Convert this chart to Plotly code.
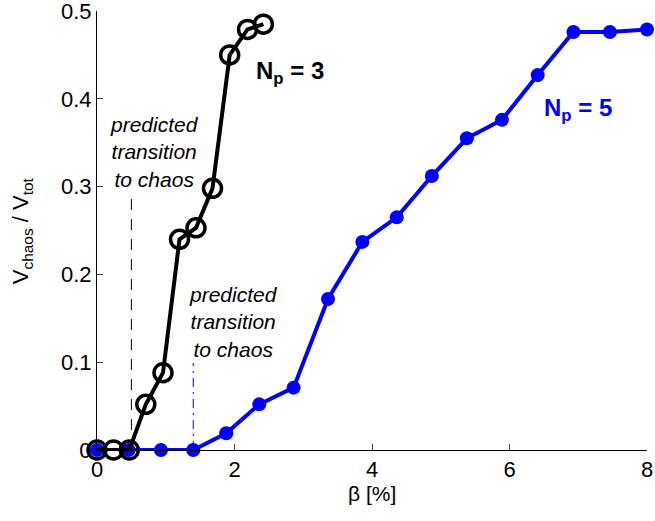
import plotly.graph_objects as go

# N_p = 3 series
beta_np3 = [0.0, 0.24, 0.47, 0.71, 0.96, 1.20, 1.44, 1.68, 1.93, 2.19, 2.42]
v_np3 = [0.0, 0.0, 0.0, 0.052, 0.088, 0.240, 0.253, 0.298, 0.450, 0.479, 0.485]

# N_p = 5 series
beta_np5 = [0.0, 0.46, 0.93, 1.40, 1.88, 2.36, 2.86, 3.36, 3.86, 4.36, 4.87,
            5.38, 5.89, 6.41, 6.93, 7.46, 8.0]
v_np5 = [0.0, 0.0, 0.0, 0.0, 0.019, 0.052, 0.071, 0.172, 0.237, 0.265, 0.312,
         0.355, 0.376, 0.427, 0.476, 0.476, 0.479]

# predicted transitions
trans_x = [0.5, 1.4]
trans_top = [0.295, 0.099]

x_ticks = [0, 2, 4, 6, 8]
y_ticks = [0, 0.1, 0.2, 0.3, 0.4, 0.5]
y_ticklabels = ["0", "0.1", "0.2", "0.3", "0.4", "0.5"]

FONT = "Liberation Sans, Arial, Helvetica, sans-serif"
BLUE = "#0000ff"

fig = go.Figure()

# transition markers
fig.add_trace(go.Scatter(x=[trans_x[0], trans_x[0]], y=[0, trans_top[0]], mode="lines",
                         line=dict(color="black", width=1, dash="11px,9px"),
                         showlegend=False, hoverinfo="skip"))
fig.add_trace(go.Scatter(x=[trans_x[1], trans_x[1]], y=[0, trans_top[1]], mode="lines",
                         line=dict(color=BLUE, width=1, dash="9px,5px,2px,5px"),
                         showlegend=False, hoverinfo="skip"))

fig.add_trace(go.Scatter(x=beta_np5, y=v_np5, mode="lines+markers",
                         line=dict(color=BLUE, width=4),
                         marker=dict(symbol="circle", size=14, color=BLUE),
                         cliponaxis=False, showlegend=False))
fig.add_trace(go.Scatter(x=beta_np3, y=v_np3, mode="lines+markers",
                         line=dict(color="black", width=4),
                         marker=dict(symbol="circle-open", size=18,
                                     line=dict(color="black", width=3.5)),
                         cliponaxis=False, showlegend=False))

ann_font = dict(family=FONT, size=21, color="black")
fig.add_annotation(x=0.84, y=0.339, xref="x", yref="y",
                   text="<i>predicted<br>transition<br>to chaos</i>",
                   showarrow=False, align="center", font=ann_font,
                   yanchor="middle")
fig.add_annotation(x=1.98, y=0.146, xref="x", yref="y",
                   text="<i>predicted<br>transition<br>to chaos</i>",
                   showarrow=False, align="center", font=ann_font,
                   yanchor="middle")
fig.add_annotation(x=2.28, y=0.43, xref="x", yref="y",
                   text="<b>N<sub>p</sub> = 3</b>", showarrow=False,
                   xanchor="left", yanchor="middle",
                   font=dict(family=FONT, size=24, color="black"))
fig.add_annotation(x=7.0, y=0.388, xref="x", yref="y",
                   text="<b>N<sub>p</sub> = 5</b>", showarrow=False,
                   xanchor="center", yanchor="middle",
                   font=dict(family=FONT, size=24, color=BLUE))

# axis titles
fig.add_annotation(x=0.5, y=-0.098, xref="x domain", yref="y domain",
                   text="β [%]", showarrow=False, xanchor="center", yanchor="middle",
                   font=dict(family=FONT, size=21, color="black"))
fig.add_annotation(x=-0.137, y=0.5, xref="x domain", yref="y domain",
                   text="V<sub>chaos</sub> / V<sub>tot</sub>", showarrow=False,
                   textangle=-90, xanchor="center", yanchor="middle",
                   font=dict(family=FONT, size=22, color="black"))

fig.update_layout(
    width=655, height=521,
    margin=dict(l=97, r=8, t=11, b=71),
    paper_bgcolor="white", plot_bgcolor="white",
    font=dict(family=FONT, size=22, color="black"),
    xaxis=dict(range=[0, 8], tickvals=x_ticks, ticks="inside", ticklen=6,
               showline=True, linecolor="black", linewidth=1, showgrid=False,
               zeroline=False, tickfont=dict(size=22), automargin=False,
               ticklabeloverflow="allow"),
    yaxis=dict(range=[0, 0.5], tickvals=y_ticks, ticktext=y_ticklabels,
               ticks="inside", ticklen=6, showline=True, linecolor="black",
               linewidth=1, showgrid=False, zeroline=False,
               tickfont=dict(size=22), automargin=False,
               ticklabeloverflow="allow"),
)

fig.write_html("out.html", config={"displayModeBar": False},
               post_script="document.body.style.margin='0';document.body.style.overflow='hidden';")
